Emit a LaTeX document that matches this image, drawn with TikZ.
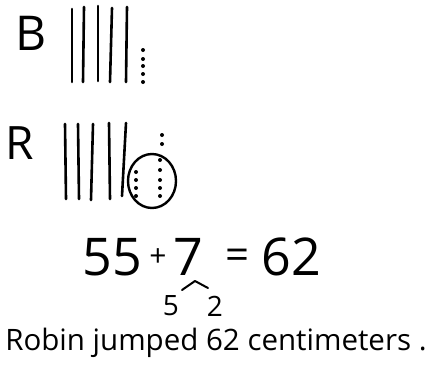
\documentclass[tikz,border=0pt]{standalone}
\usepackage{fontspec}
\setmainfont{Open Sans}
\begin{document}
\begin{tikzpicture}[x=1pt,y=-1pt,
  stroke/.style={line width=2.6pt,line cap=round},
  dotmark/.style={fill=black},
  txt/.style={inner sep=0pt,anchor=center}]
\useasboundingbox (0,0) rectangle (429,367);
% B row
\node[txt,font=\fontsize{48}{48}\selectfont] (B) at (31,33) {B};
\draw[stroke] (72,9) -- (72,82);
\draw[stroke] (84,7) -- (83,82);
\draw[stroke] (98,6) -- (98,81);
\draw[stroke] (112,8) -- (110,82);
\draw[stroke] (127,7) -- (126,82);
\foreach \y in {50,59,66,74,82} \fill[dotmark] (143,\y) circle (2);
% R row
\node[txt,font=\fontsize{46}{46}\selectfont] (R) at (20,143) {R};
\draw[stroke] (65,124) -- (66,199);
\draw[stroke] (78,124) -- (79,199);
\draw[stroke] (93,124) -- (91,200);
\draw[stroke] (109,123) -- (110,199);
\draw[stroke] (126,123) -- (122,196);
\draw[line width=2.4pt] (152,181) ellipse (24 and 27);
\foreach \y in {172,180,188,196} \fill[dotmark] (136,\y) circle (2);
\foreach \y in {160,170,180,188,196} \fill[dotmark] (160,\y) circle (2);
\foreach \y in {135,144} \fill[dotmark] (162,\y) circle (2);
% equation
\node[txt,font=\fontsize{52}{52}\selectfont] (n55) at (112,257) {55};
\node[txt,font=\fontsize{30}{30}\selectfont] (plus) at (158,258) {+};
\node[txt,font=\fontsize{52}{52}\selectfont] (n7) at (188,257) {7};
\node[txt,font=\fontsize{42}{42}\selectfont] (eq) at (238,259) {=};
\node[txt,font=\fontsize{52}{52}\selectfont] (n62) at (291,257) {62};
\coordinate (c1) at (182,290);
\coordinate (c2) at (195,281);
\coordinate (c3) at (208,288);
\draw[line width=2pt,line cap=round,line join=round] (c1) -- (c2) -- (c3);
\node[txt,font=\fontsize{28}{28}\selectfont] (n5) at (171,306) {5};
\node[txt,font=\fontsize{28}{28}\selectfont] (n2) at (215,306) {2};
% sentence
\node[txt,font=\fontsize{29.5}{29.5}\selectfont] (sent) at (216,343) {Robin jumped 62 centimeters .};
\end{tikzpicture}
\end{document}
